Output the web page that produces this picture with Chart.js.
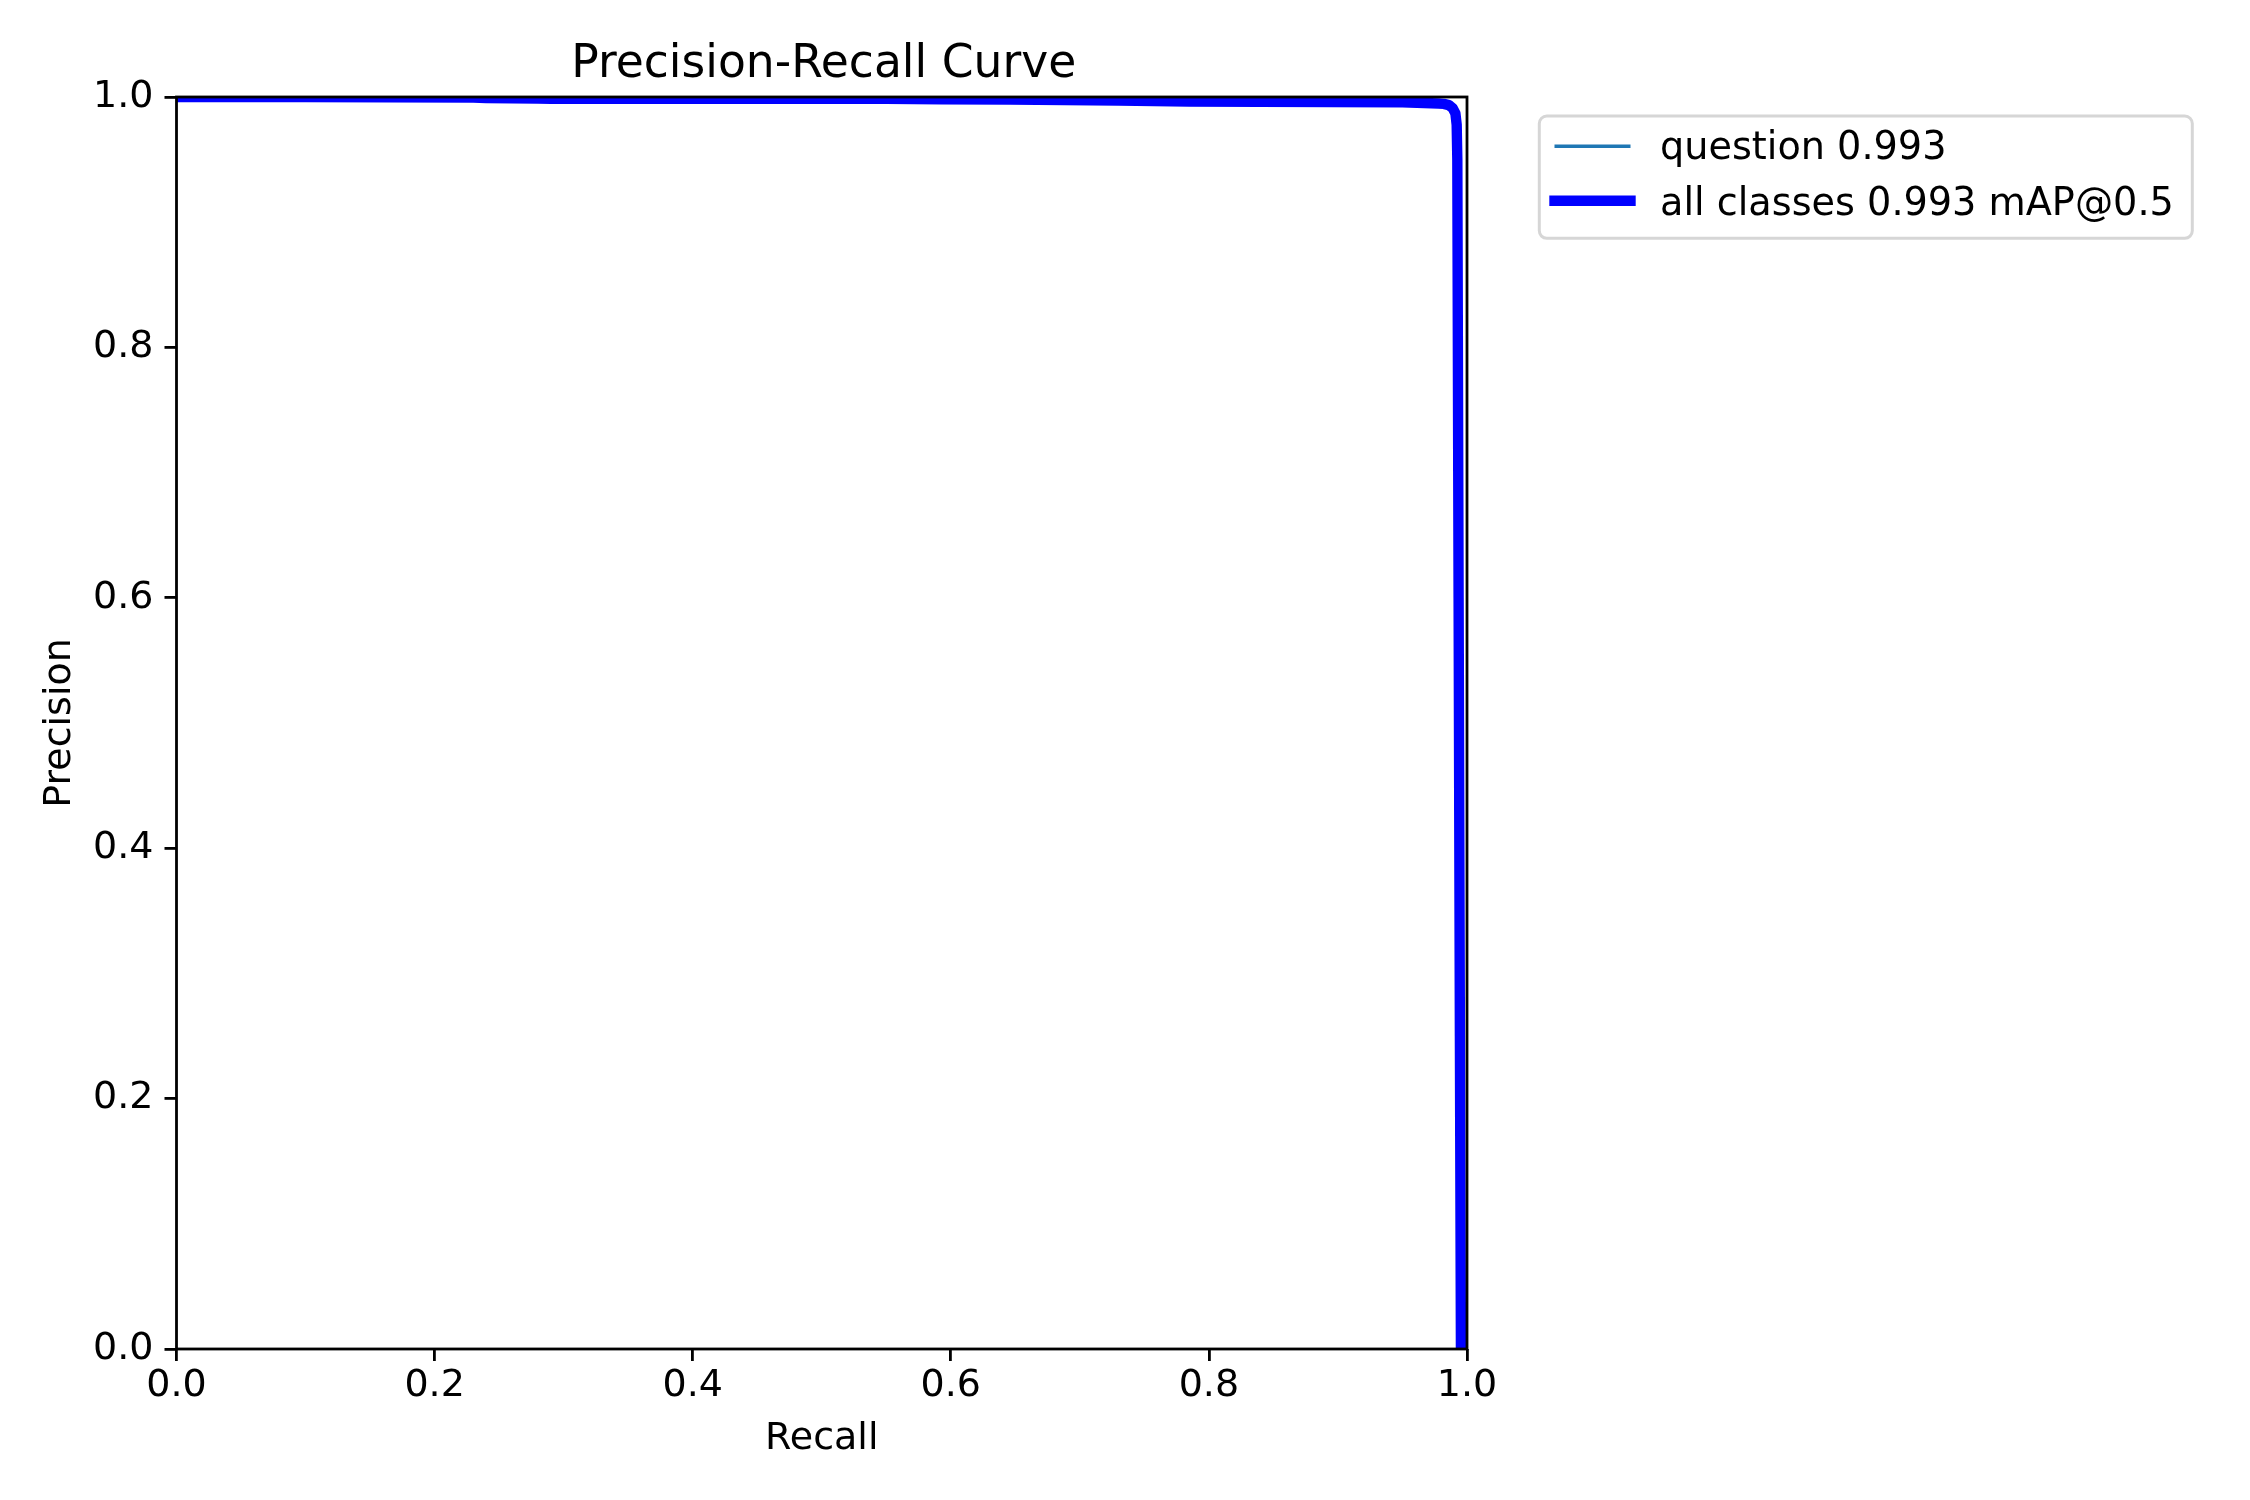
<!DOCTYPE html>
<html><head><meta charset="utf-8">
<script src="https://cdn.jsdelivr.net/npm/chart.js@4.4.1/dist/chart.umd.min.js"></script>
<style>html,body{margin:0;padding:0;background:#fff;} #wrap{width:2250px;height:1500px;position:relative;}</style>
</head><body><div id="wrap"><canvas id="c" width="2250" height="1500"></canvas></div>
<script>
// ---- data ----
const recall = [0, 0.10, 0.23, 0.24, 0.28, 0.29, 0.55, 0.593, 0.646, 0.73, 0.785, 0.95, 0.978, 0.982, 0.986, 0.989, 0.991, 0.992, 0.9925, 0.9935, 0.9945, 0.9953, 1.0];
const precisionQuestion = [1.0, 1.0, 0.9996, 0.9992, 0.9988, 0.9985, 0.9985, 0.9982, 0.998, 0.9972, 0.9964, 0.9958, 0.9948, 0.9945, 0.9935, 0.991, 0.987, 0.978, 0.95, 0.60, 0.25, 0.0, 0.0];
const precisionAll = [1.0, 1.0, 0.9996, 0.9992, 0.9988, 0.9985, 0.9985, 0.9982, 0.998, 0.9972, 0.9964, 0.9958, 0.9948, 0.9945, 0.9935, 0.991, 0.987, 0.978, 0.95, 0.60, 0.25, 0.0, 0.0];
const seriesLabels = ['question 0.993', 'all classes 0.993 mAP@0.5'];
const xTickVals = [0, 0.2, 0.4, 0.6, 0.8, 1.0];
const yTickVals = [0, 0.2, 0.4, 0.6, 0.8, 1.0];
const titleText = 'Precision-Recall Curve';
const xTitle = 'Recall';
const yTitle = 'Precision';

const FONT = 'DejaVu Sans';
const FS = 38;
const LEG_FS = 38.2;
const TITLE_FS = 45.6;

function pts(xs, ys) { return xs.map((x, i) => ({x: x, y: ys[i]})); }

const decorPlugin = {
  id: 'decor',
  afterDraw(chart) {
    const ctx = chart.ctx, a = chart.chartArea;
    ctx.save();
    // spines
    ctx.strokeStyle = '#000';
    ctx.lineWidth = 2.8;
    ctx.strokeRect(a.left, a.top, a.right - a.left, a.bottom - a.top);
    // title
    ctx.fillStyle = '#000';
    ctx.font = TITLE_FS + 'px "' + FONT + '"';
    ctx.textAlign = 'center';
    ctx.textBaseline = 'alphabetic';
    ctx.fillText(titleText, (a.left + a.right) / 2 + 2, 76.7);
    // legend frame
    const bx = 1539.3, by = 116, bw = 2192.3 - 1539.3, bh = 238.3 - 116, r = 7.5;
    ctx.beginPath();
    ctx.moveTo(bx + r, by);
    ctx.lineTo(bx + bw - r, by);
    ctx.arcTo(bx + bw, by, bx + bw, by + r, r);
    ctx.lineTo(bx + bw, by + bh - r);
    ctx.arcTo(bx + bw, by + bh, bx + bw - r, by + bh, r);
    ctx.lineTo(bx + r, by + bh);
    ctx.arcTo(bx, by + bh, bx, by + bh - r, r);
    ctx.lineTo(bx, by + r);
    ctx.arcTo(bx, by, bx + r, by, r);
    ctx.closePath();
    ctx.fillStyle = 'rgba(255,255,255,0.8)';
    ctx.fill();
    ctx.strokeStyle = '#d6d6d6';
    ctx.lineWidth = 3;
    ctx.stroke();
    // legend entries
    const rows = [146.3, 200.7];
    const bases = [159.3, 215];
    chart.data.datasets.forEach((ds, i) => {
      ctx.beginPath();
      ctx.strokeStyle = ds.borderColor;
      ctx.lineWidth = ds.borderWidth;
      ctx.lineCap = i === 1 ? 'square' : 'butt';
      ctx.moveTo(1554.5, rows[i]);
      ctx.lineTo(1630.5, rows[i]);
      ctx.stroke();
      ctx.fillStyle = '#000';
      ctx.font = LEG_FS + 'px "' + FONT + '"';
      ctx.textAlign = 'left';
      ctx.textBaseline = 'alphabetic';
      ctx.fillText(ds.label, 1660, bases[i]);
    });
    ctx.restore();
  }
};

Chart.defaults.color = '#000';
Chart.defaults.font.family = FONT;

new Chart(document.getElementById('c'), {
  type: 'line',
  data: {
    datasets: [
      {label: seriesLabels[0], data: pts(recall, precisionQuestion), borderColor: '#1f77b4', borderWidth: 3.5, pointRadius: 0, tension: 0, fill: false, clip: 0, order: 2},
      {label: seriesLabels[1], data: pts(recall, precisionAll), borderColor: '#0000ff', borderWidth: 10.4, pointRadius: 0, tension: 0, fill: false, clip: 0, order: 1, borderJoinStyle: 'round'}
    ]
  },
  options: {
    responsive: false,
    devicePixelRatio: 1,
    animation: false,
    layout: {padding: {left: 0, right: 783, top: 97, bottom: 0}},
    plugins: {legend: {display: false}, title: {display: false}, tooltip: {enabled: false}},
    scales: {
      x: {
        type: 'linear', min: 0, max: 1,
        afterBuildTicks: s => { s.ticks = xTickVals.map(v => ({value: v})); },
        afterFit: s => { s.height = 151; },
        ticks: {callback: v => Number(v).toFixed(1), font: {family: FONT, size: FS}, color: '#000', padding: 2, maxRotation: 0, autoSkip: false},
        grid: {display: true, drawOnChartArea: false, drawTicks: true, tickLength: 12, color: '#000', lineWidth: 2.8},
        border: {display: false},
        title: {display: true, text: xTitle, font: {family: FONT, size: FS}, color: '#000', padding: {top: 0, bottom: 38}}
      },
      y: {
        type: 'linear', min: 0, max: 1,
        afterBuildTicks: s => { s.ticks = yTickVals.map(v => ({value: v})); },
        afterFit: s => { s.width = 176.5; },
        ticks: {callback: v => Number(v).toFixed(1), font: {family: FONT, size: FS}, color: '#000', padding: 11, autoSkip: false},
        grid: {display: true, drawOnChartArea: false, drawTicks: true, tickLength: 12, color: '#000', lineWidth: 2.8},
        border: {display: false},
        title: {display: true, text: yTitle, font: {family: FONT, size: FS}, color: '#000', padding: {top: 37, bottom: 0}}
      }
    }
  },
  plugins: [decorPlugin]
});
</script>
</body></html>
